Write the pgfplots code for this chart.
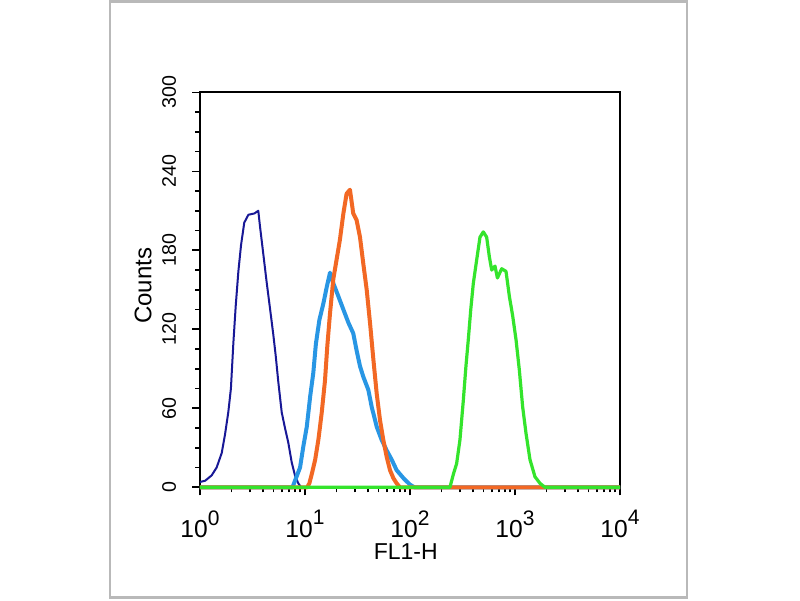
\documentclass[border=0pt]{standalone}
\usepackage{pgfplots}
\pgfplotsset{compat=1.18}
\usepackage{fontspec}
\setmainfont{Liberation Sans}
\definecolor{cnavy}{RGB}{24,24,150}
\definecolor{clblue}{RGB}{40,150,228}
\definecolor{corange}{RGB}{242,104,36}
\definecolor{cgreen}{RGB}{52,228,44}
\newcommand{\tenp}[1]{10\raisebox{0.5em}{\fontsize{10.5}{10.5}\selectfont #1}}
\begin{document}
\begin{tikzpicture}
\path[fill=white] (0,0) rectangle (400pt,300pt);
\draw[gray!55, line width=1.3pt] (55pt,1.5pt) rectangle (343.5pt,299.5pt);
\begin{axis}[
  at={(100pt,56.5pt)}, anchor=south west,
  scale only axis, width=210pt, height=197.5pt,
  xmode=log, xmin=1, xmax=10000, ymin=0, ymax=300,
  clip=false,
  axis line style={black, line width=1pt},
  tick pos=left, tick align=outside,
  major tick length=4pt, minor tick length=2.5pt,
  every tick/.style={black, line width=0.8pt},
  xtick={1,10,100,1000,10000},
  xticklabels={\tenp{0},\tenp{1},\tenp{2},\tenp{3},\tenp{4}},
  ytick={0,60,120,180,240,300},
  minor y tick num=3,
  /pgf/number format/assume math mode=true,
  yticklabel style={rotate=90, anchor=south, yshift=4.5pt, font=\fontsize{9.8}{10}\selectfont},
  xticklabel style={yshift=-4pt, font=\fontsize{12.3}{13}\selectfont},
  xlabel={FL1-H}, ylabel={Counts},
  xlabel style={at={(axis description cs:0.49,0)}, anchor=center, yshift=-32pt, font=\fontsize{11.5}{12}\selectfont},
  ylabel style={at={(axis description cs:-0.1357,0.51)}, anchor=center, font=\fontsize{12}{13}\selectfont},
]
\addplot[cnavy, line width=1pt, line join=round] coordinates {
(1,4) (1.12,5) (1.29,9) (1.44,15) (1.61,26) (1.73,40) (1.86,57) (1.97,75) (2.08,110) (2.19,138) (2.32,164) (2.46,184) (2.64,201) (2.89,207) (3.3,208) (3.59,210) (3.73,198) (4.01,177) (4.31,156) (4.64,136) (4.99,116) (5.26,100) (5.57,80) (6.0,57) (6.45,45) (6.93,34) (7.47,19) (8.03,9) (8.63,3) (9.2,0) (10000,0)
};
\addplot[clblue, line width=2pt, line join=round] coordinates {
(1,0) (7.6,0) (8.03,5) (8.97,15) (9.64,31) (10.4,46) (11.2,69) (12.0,87) (12.7,109) (13.7,127) (15.0,140) (16.1,152) (17.3,163) (18.6,155) (20.8,145) (23.2,135) (25.9,125) (28.8,117) (31.0,104) (33.4,92) (35.9,84) (40.1,74) (43.2,61) (48.2,46) (53.7,36) (60.0,28) (66.9,21) (74.6,13) (86.5,7) (100,2) (110,0) (10000,0)
};
\addplot[corange, line width=2pt, line join=round] coordinates {
(1,0) (10.5,0) (11.0,3) (11.6,10) (12.5,21) (13.4,36) (14.4,56) (15.5,81) (16.3,107) (17.3,132) (18.6,158) (20.0,173) (21.5,188) (23.2,208) (24.9,223) (26.8,226) (28.8,208) (31.0,203) (33.4,190) (35.9,170) (38.7,150) (41.6,125) (44.8,97) (48.2,71) (51.8,51) (55.7,36) (60.0,23) (64.5,13) (69.4,7) (74.6,3) (80.3,0) (10000,0)
};
\addplot[cgreen, line width=1.6pt, line join=round] coordinates {
(1,0) (235,0) (240,0) (259,10) (278,18) (299,36) (322,66) (341,92) (359,112) (379,135) (401,155) (432,173) (464,190) (499,194) (537,190) (570,175) (600,165) (645,168) (680,159) (747,166) (821,164) (884,145) (951,130) (1023,112) (1100,89) (1183,61) (1273,41) (1389,21) (1550,8) (1730,3) (1931,0) (10000,0)
};
\end{axis}
\end{tikzpicture}
\end{document}
